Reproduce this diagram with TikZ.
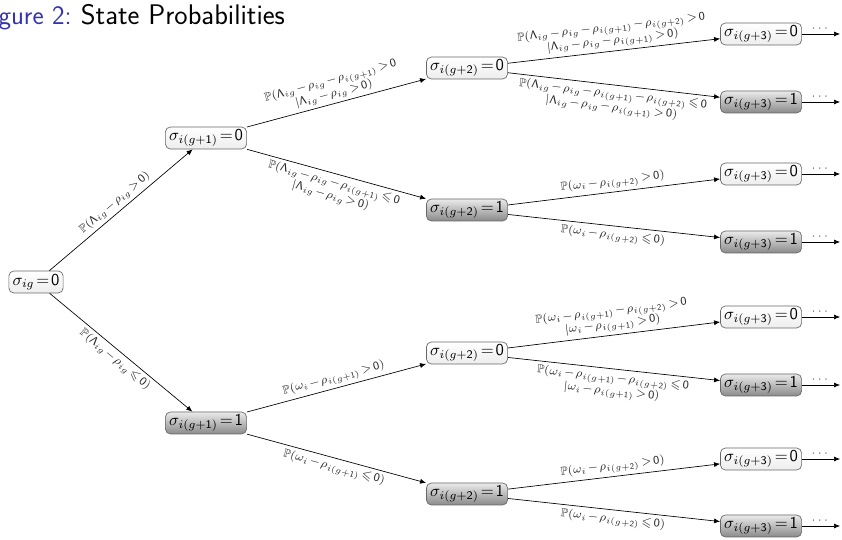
\documentclass[tikz,border=0pt]{standalone}
\usepackage{amsmath,amssymb}
\usetikzlibrary{arrows.meta}
\definecolor{ink}{HTML}{262626}
\definecolor{capblue}{RGB}{51,51,179}
\newcommand{\Lig}{\mathsf{\Lambda}_{ig}}
\newcommand{\rhog}[1]{\rho_{i(g+\mathsf{#1})}}

\begin{document}
\begin{tikzpicture}[x=0.6pt,y=-0.6pt,font=\sffamily,
  st0/.style={draw=black!60,rounded corners=3pt,inner xsep=2.2pt,inner ysep=1.5pt,minimum height=13.2pt,top color=white,bottom color=black!7},
  st1/.style={st0,top color=black!8,bottom color=black!46},
  prob/.style={font={\scriptsize\medmuskip=1.5mu\thickmuskip=2.5mu},text=ink,align=center,sloped,inner sep=1.8pt},
  edge/.style={-{Latex[length=3.6pt,width=3pt]}}]
\useasboundingbox (0,0) rectangle (842,540);
\node[anchor=base west,inner sep=0pt] (title) at (-22,25) {\fontsize{16}{19}\selectfont\textcolor{capblue}{Figure 2:}\hspace{0.35em}\fontsize{17}{20}\selectfont State Probabilities};

% root and the two inner levels
\node[st0] (r) at (36,282) {$\sigma_{ig}\!=\!\mathsf{0}$};
\node[st0] (a0) at (206,138) {$\sigma_{i(g+\mathsf{1})}\!=\!\mathsf{0}$};
\node[st1] (a1) at (206,423) {$\sigma_{i(g+\mathsf{1})}\!=\!\mathsf{1}$};
\node[st0] (b00) at (467,68) {$\sigma_{i(g+\mathsf{2})}\!=\!\mathsf{0}$};
\node[st1] (b01) at (467,210) {$\sigma_{i(g+\mathsf{2})}\!=\!\mathsf{1}$};
\node[st0] (b10) at (467,353) {$\sigma_{i(g+\mathsf{2})}\!=\!\mathsf{0}$};
\node[st1] (b11) at (467,494) {$\sigma_{i(g+\mathsf{2})}\!=\!\mathsf{1}$};

% last level, each one trailing off
\foreach \k/\y/\v in {1/34/0,2/102/1,3/174/0,4/242/1,5/317/0,6/385/1,7/459/0,8/526/1}
{
\node[st\v] (c\k) at (761,\y) {$\sigma_{i(g+\mathsf{3})}\!=\!\mathsf{\v}$};
\coordinate (e\k) at (840,\y);
\draw[edge] (c\k) -- node[above,inner sep=1.5pt,font=\scriptsize,text=black!70]{$\cdots$} (e\k);
}

\draw[edge] (r) -- node[prob,above]{$\mathbb{P}(\Lig-\rho_{ig}>\mathsf{0})$} (a0);
\draw[edge] (r) -- node[prob,below]{$\mathbb{P}(\Lig-\rho_{ig}\leqslant\mathsf{0})$} (a1);

\draw[edge] (a0) -- node[prob,above]{$\mathbb{P}(\Lig-\rho_{ig}-\rhog{1}>\mathsf{0}$\\$|\Lig-\rho_{ig}>\mathsf{0})$} (b00);
\draw[edge] (a0) -- node[prob,below]{$\mathbb{P}(\Lig-\rho_{ig}-\rhog{1}\leqslant\mathsf{0}$\\$|\Lig-\rho_{ig}>\mathsf{0})$} (b01);
\draw[edge] (a1) -- node[prob,above]{$\mathbb{P}(\omega_i-\rhog{1}>\mathsf{0})$} (b10);
\draw[edge] (a1) -- node[prob,below]{$\mathbb{P}(\omega_i-\rhog{1}\leqslant\mathsf{0})$} (b11);

\draw[edge] (b00) -- node[prob,above]{$\mathbb{P}(\Lig-\rho_{ig}-\rhog{1}-\rhog{2}>\mathsf{0}$\\$|\Lig-\rho_{ig}-\rhog{1}>\mathsf{0})$} (c1);
\draw[edge] (b00) -- node[prob,below]{$\mathbb{P}(\Lig-\rho_{ig}-\rhog{1}-\rhog{2}\leqslant\mathsf{0}$\\$|\Lig-\rho_{ig}-\rhog{1}>\mathsf{0})$} (c2);
\draw[edge] (b01) -- node[prob,above]{$\mathbb{P}(\omega_i-\rhog{2}>\mathsf{0})$} (c3);
\draw[edge] (b01) -- node[prob,below]{$\mathbb{P}(\omega_i-\rhog{2}\leqslant\mathsf{0})$} (c4);
\draw[edge] (b10) -- node[prob,above]{$\mathbb{P}(\omega_i-\rhog{1}-\rhog{2}>\mathsf{0}$\\$|\omega_i-\rhog{1}>\mathsf{0})$} (c5);
\draw[edge] (b10) -- node[prob,below]{$\mathbb{P}(\omega_i-\rhog{1}-\rhog{2}\leqslant\mathsf{0}$\\$|\omega_i-\rhog{1}>\mathsf{0})$} (c6);
\draw[edge] (b11) -- node[prob,above]{$\mathbb{P}(\omega_i-\rhog{2}>\mathsf{0})$} (c7);
\draw[edge] (b11) -- node[prob,below]{$\mathbb{P}(\omega_i-\rhog{2}\leqslant\mathsf{0})$} (c8);
\end{tikzpicture}
\end{document}
